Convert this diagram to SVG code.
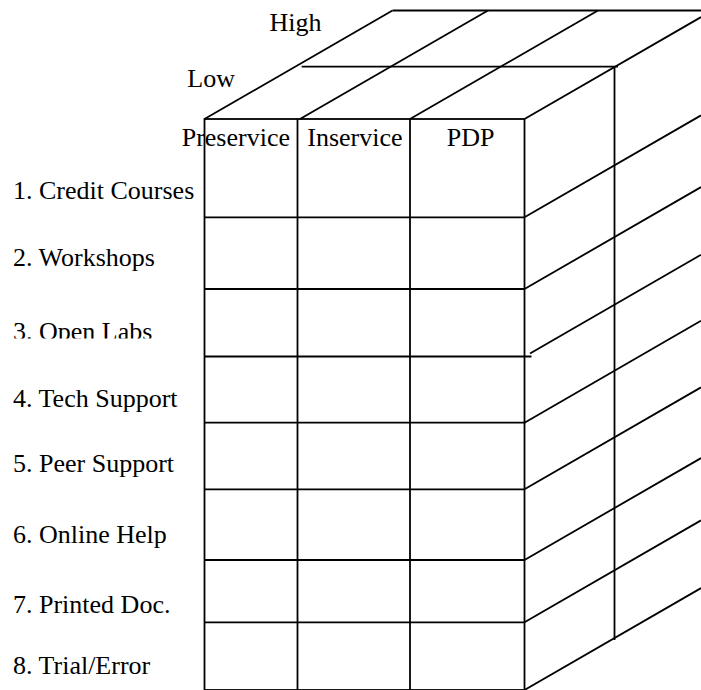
<svg xmlns="http://www.w3.org/2000/svg" width="701" height="690" viewBox="0 0 701 690">
  <style>
    .ln { stroke: #000; stroke-width: 1.8; fill: none; stroke-linecap: butt; }
    .lbl { font-family: "Liberation Serif", "Times New Roman", serif; font-size: 26px; fill: #000; }
  </style>
  <defs>
    <!-- the third row label is cut off just at its baseline -->
    <clipPath id="cutRow3">
      <rect x="0" y="300" width="220" height="38.5"/>
    </clipPath>
  </defs>
  <rect width="701" height="690" fill="#fff"/>

  <!-- front face: source types x support types -->
  <g id="front-face" class="ln">
    <rect x="204.5" y="119" width="320" height="571"/>
    <line x1="297.5" y1="119" x2="297.5" y2="690"/>
    <line x1="410" y1="119" x2="410" y2="690"/>
    <line x1="204.5" y1="217.3" x2="524.5" y2="217.3"/>
    <line x1="204.5" y1="289" x2="524.5" y2="289"/>
    <line x1="204.5" y1="356.5" x2="531.5" y2="356.5"/>
    <line x1="204.5" y1="422.7" x2="524.5" y2="422.7"/>
    <line x1="204.5" y1="489.3" x2="524.5" y2="489.3"/>
    <line x1="204.5" y1="560" x2="524.5" y2="560"/>
    <line x1="204.5" y1="622.3" x2="524.5" y2="622.3"/>
  </g>

  <!-- top face: Low / High depth levels -->
  <g id="top-face" class="ln">
    <line x1="204.5" y1="119" x2="392.5" y2="10.5"/>
    <line x1="300" y1="119" x2="488" y2="10.5"/>
    <line x1="410" y1="119" x2="598" y2="10.5"/>
    <line x1="524.5" y1="119" x2="701" y2="17.1"/>
    <line x1="392.5" y1="10.5" x2="701" y2="10.5"/>
    <line x1="301.7" y1="66.7" x2="618" y2="66.7"/>
  </g>

  <!-- right side face -->
  <g id="side-face" class="ln">
    <line x1="614.5" y1="66.7" x2="614.5" y2="640"/>
    <line x1="524.5" y1="217.3" x2="701" y2="115.4"/>
    <line x1="524.5" y1="289" x2="701" y2="187.1"/>
    <line x1="530" y1="353.5" x2="701" y2="254.8"/>
    <line x1="524.5" y1="422.7" x2="701" y2="320.8"/>
    <line x1="524.5" y1="489.3" x2="701" y2="387.4"/>
    <line x1="524.5" y1="560" x2="701" y2="458.1"/>
    <line x1="524.5" y1="622.3" x2="701" y2="520.4"/>
    <line x1="524.5" y1="690" x2="701" y2="588.1"/>
  </g>

  <!-- depth level labels -->
  <g id="depth-labels" class="lbl">
    <text x="269.5" y="30.7">High</text>
    <text x="187.3" y="87">Low</text>
  </g>

  <!-- column headers -->
  <g id="column-headers" class="lbl">
    <text x="181.7" y="145.7">Preservice</text>
    <text x="307.3" y="145.7">Inservice</text>
    <text x="446.7" y="145.7">PDP</text>
  </g>

  <!-- row labels -->
  <g id="row-labels" class="lbl">
    <text x="13" y="198.7">1. Credit Courses</text>
    <text x="13" y="265.7">2. Workshops</text>
    <text x="13" y="339.5" clip-path="url(#cutRow3)">3. Open Labs</text>
    <text x="13" y="406.5">4. Tech Support</text>
    <text x="13" y="471.7">5. Peer Support</text>
    <text x="13" y="543.3">6. Online Help</text>
    <text x="13" y="613.3">7. Printed Doc.</text>
    <text x="13" y="674.3">8. Trial/Error</text>
  </g>
</svg>
